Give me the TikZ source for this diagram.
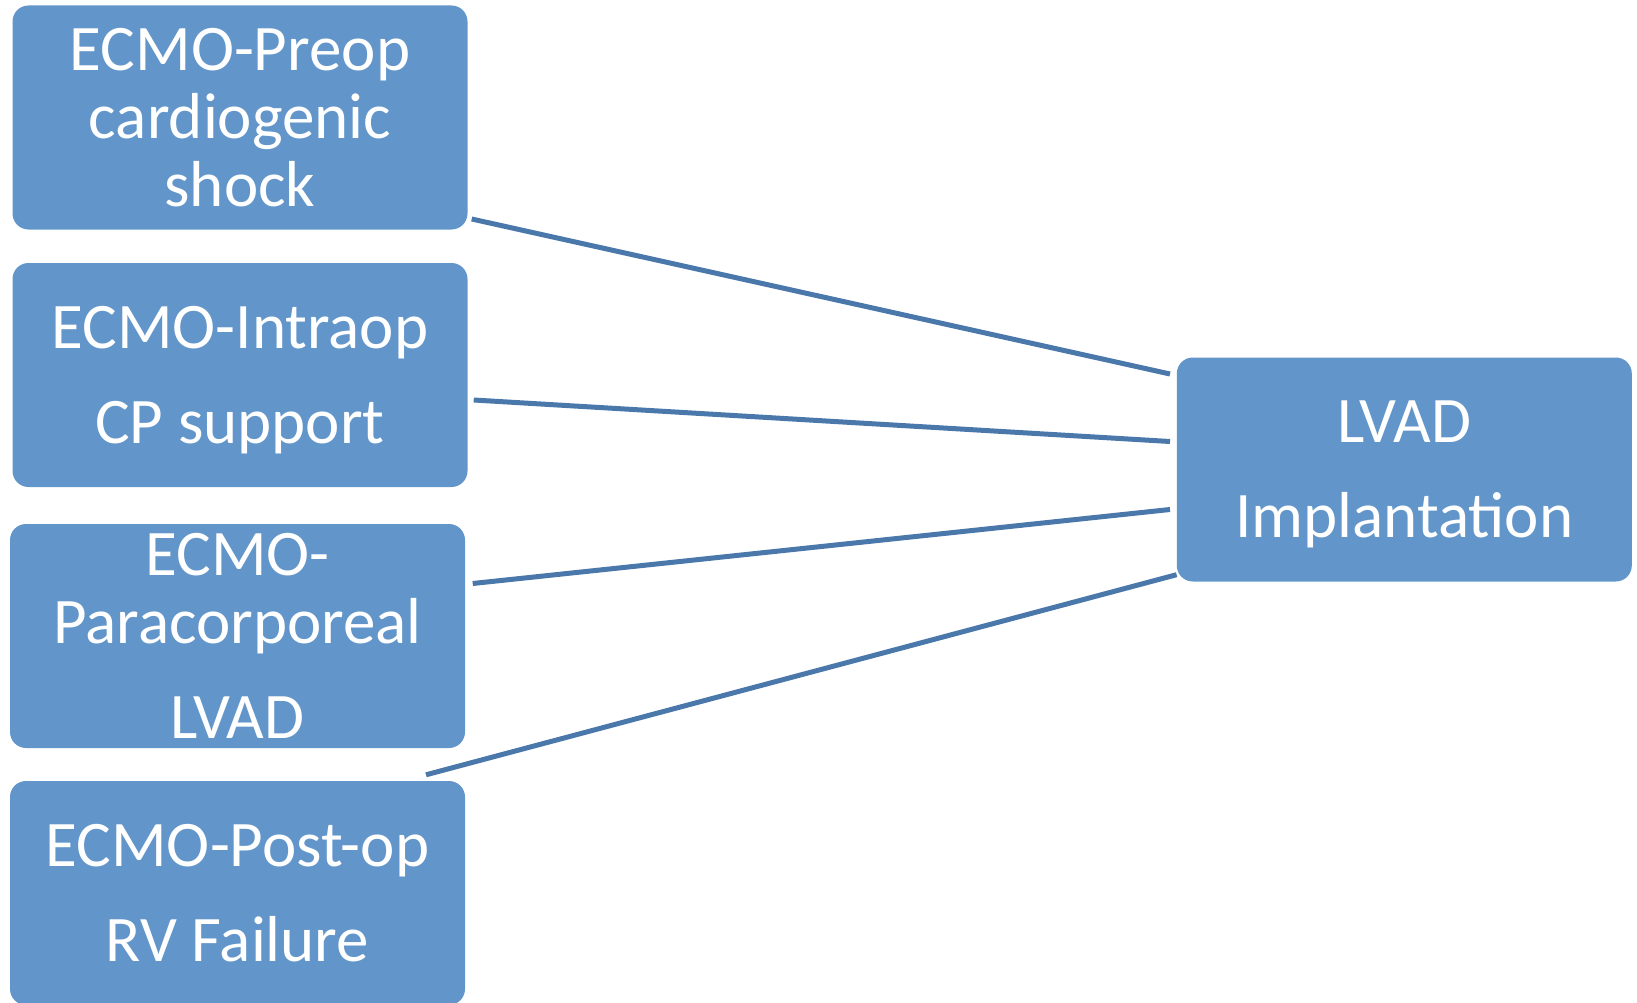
\documentclass[tikz,border=0pt]{standalone}
\usepackage{fontspec}
\setmainfont{Carlito}
\definecolor{boxblue}{HTML}{6296CA}
\definecolor{lineblue}{HTML}{4A78AB}
\begin{document}
\begin{tikzpicture}[x=1pt, y=-1pt,
        stage/.style={rectangle, rounded corners=16pt, fill=boxblue, text=white,
            minimum width=455pt, minimum height=224pt, align=center,
            font=\fontsize{65}{68}\selectfont, inner sep=0pt, text depth=-12pt},
        link/.style={line width=5pt, draw=lineblue}]
                \useasboundingbox (0, 0) rectangle (1637, 1003);
                \node[stage] (preop) at (240, 117.5) {ECMO-Preop\\cardiogenic\\shock};
                \node[stage] (intraop) at (240, 375) {ECMO-Intraop\\[27pt]CP support};
                \node[stage] (paracorp) at (237.5, 636) {ECMO-\\Paracorporeal\\[27pt]LVAD};
                \node[stage] (postop) at (237.5, 893) {ECMO-Post-op\\[27pt]RV Failure};
                \node[stage] (lvad) at (1404.3, 469.5) {LVAD\\[27pt]Implantation};
                \draw[link] ([xshift=4pt, yshift=-101.5pt]preop.east) -- ([xshift=-6.6pt, yshift=95.5pt]lvad.west);
                \draw[link] ([xshift=6pt, yshift=-25pt]intraop.east) -- ([xshift=-6.6pt, yshift=28pt]lvad.west);
                \draw[link] ([xshift=7.5pt, yshift=52.5pt]paracorp.east) -- ([xshift=-6.6pt, yshift=-40pt]lvad.west);
                \draw[link] ([xshift=188.5pt, yshift=6pt]postop.north) -- ([yshift=7pt]lvad.south west);
            \end{tikzpicture}
\end{document}
